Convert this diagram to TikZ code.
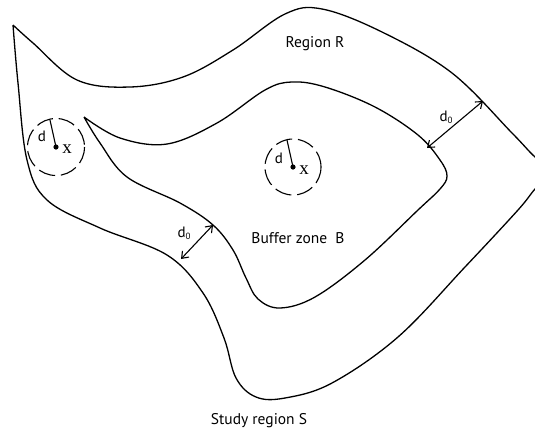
\documentclass[tikz,border=0pt]{standalone}
\usepackage{fontspec}
\setmainfont{PT Sans}
\newfontfamily\serifx{Liberation Serif}
\usetikzlibrary{arrows.meta}
\begin{document}
\begin{tikzpicture}[x=1pt,y=-1pt,
  outline/.style={line width=1.3pt, line join=round},
  buffcircle/.style={line width=1.1pt, dash pattern=on 17pt off 5.8pt},
  dim/.style={line width=1.1pt, {Straight Barb[length=6pt,width=9pt]}-{Straight Barb[length=6pt,width=9pt]}},
  lbl/.style={font=\fontsize{15.5}{17}\selectfont, inner sep=0pt},
  dlbl/.style={font=\fontsize{15}{16}\selectfont, inner sep=0pt},
  xlbl/.style={font=\fontsize{19}{20}\serifx, inner sep=0pt}]
\useasboundingbox (0,0) rectangle (535,429);
\clip (0,0) rectangle (535,429);
% outer boundary: study region S
\draw[outline] plot[smooth, tension=0.6] coordinates {
 (13,25) (18,83) (27,160) (47,200) (100,228) (167,255) (203,293) (224,338)
 (236,378) (256,397) (285,398) (332,383) (398,337) (465,267) (518,210) (536,188)
 (555,172) (535,157) (512,133) (452,73) (382,32) (322,9) (285,14) (233,50) (183,77) (130,87)
 (77,80) (33,43) (13,25)};
% inner boundary: buffer zone B
\draw[outline] plot[smooth, tension=0.6] coordinates {
 (84,117) (100,143) (127,177) (180,203) (213,225) (233,250) (246,278) (258,299)
 (280,308) (315,297) (365,260) (418,210) (440,189) (447,176) (440,160) (418,135)
 (375,107) (325,87) (292,82) (265,90) (217,123) (167,144) (120,138) (84,117)};
% circles
\coordinate (c1) at (56,147);
\coordinate (r1) at (50,120);
\draw[buffcircle] (c1) circle[radius=28.5];
\draw[line width=1.1pt] (c1) -- (r1);
\fill (c1) circle[radius=2.6];
\node[dlbl] (d1) at (42,136) {d};
\node[xlbl] (x1) at (67,149) {x};
\coordinate (c2) at (293,167);
\coordinate (r2) at (287,140);
\draw[buffcircle] (c2) circle[radius=28];
\draw[line width=1.1pt] (c2) -- (r2);
\fill (c2) circle[radius=2.6];
\node[dlbl] (d2) at (279,158) {d};
\node[xlbl] (x2) at (304,170) {x};
% buffer width arrows
\coordinate (a1) at (427,148);
\coordinate (b1) at (483,101);
\draw[dim] (a1) -- (b1);
\node[dlbl] (l1) at (446,117) {d\raisebox{-2pt}{\fontsize{9}{9}\selectfont 0}};
\coordinate (a2) at (181,259);
\coordinate (b2) at (213,225);
\draw[dim] (a2) -- (b2);
\node[dlbl] (l2) at (184,233) {d\raisebox{-2pt}{\fontsize{9}{9}\selectfont 0}};
% labels
\node[lbl] (rr) at (315,44) {Region R};
\node[lbl] (bz) at (298,238) {Buffer zone\ \ B};
\node[lbl] (sr) at (259,421) {Study region S};
\end{tikzpicture}
\end{document}
